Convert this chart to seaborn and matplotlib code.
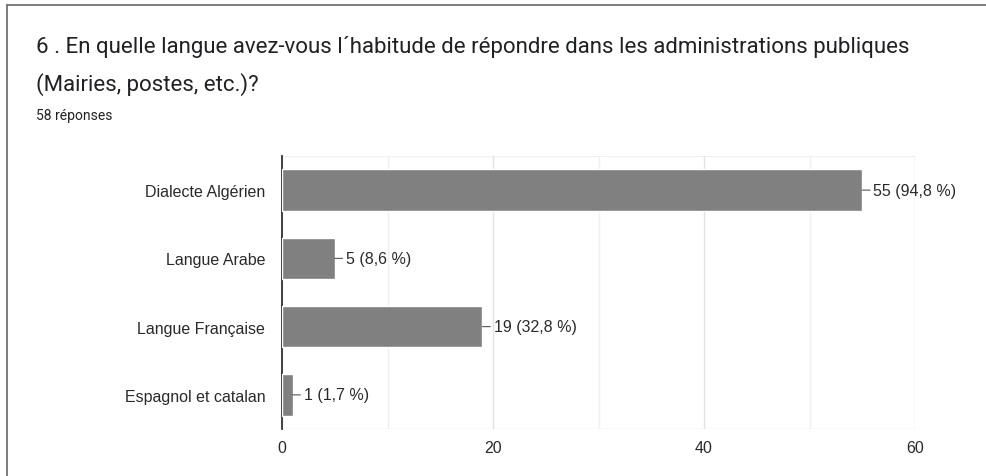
import pandas as pd
import seaborn as sns
import matplotlib.pyplot as plt
from matplotlib.lines import Line2D
from matplotlib.ticker import MultipleLocator

title_l1 = "6 . En quelle langue avez-vous l\u00b4habitude de répondre dans les administrations publiques"
title_l2 = "(Mairies, postes, etc.)?"
subtitle = "58 réponses"
langues = ['Dialecte Algérien', 'Langue Arabe', 'Langue Française', 'Espagnol et catalan']
reponses = [55, 5, 19, 1]
total = 58

df = pd.DataFrame({'langue': langues, 'n': reponses})

sns.set_style('white')
plt.rcParams['font.family'] = ['Liberation Sans', 'DejaVu Sans']

fig = plt.figure(figsize=(9.86, 4.77), dpi=100)
ax = fig.add_axes([282 / 986, 1 - 430 / 477, (915 - 282) / 986, (430 - 157) / 477])

sns.barplot(data=df, x='n', y='langue', orient='h', color='#808080', saturation=1,
            width=0.61, ax=ax, zorder=3)

ax.set_xlim(0, 60)
ax.set_ylim(3.5, -0.5)
ax.xaxis.set_major_locator(MultipleLocator(20))
ax.xaxis.set_minor_locator(MultipleLocator(10))
ax.grid(axis='x', which='major', color='#e2e2e2', lw=1, zorder=0)
ax.grid(axis='x', which='minor', color='#efefef', lw=1, zorder=0)
ax.set_axisbelow(True)
for s in ['top', 'right', 'bottom']:
    ax.spines[s].set_visible(False)
ax.spines['left'].set_color('#333333')
ax.spines['left'].set_linewidth(1.3)
ax.axhline(3.5, color='#e8e8e8', lw=1, zorder=0)
ax.axhline(-0.5, color='#f0f0f0', lw=1, zorder=0)
ax.tick_params(axis='both', which='both', length=0, labelsize=11.5, colors='#2a2a2a')
ax.tick_params(axis='y', pad=12)
ax.tick_params(axis='x', pad=8)
ax.set_xlabel('')
ax.set_ylabel('')

for i, v in enumerate(reponses):
    pct = f"{v / total * 100:.1f}".replace('.', ',')
    ax.annotate(f"{v} ({pct} %)", xy=(v, i), xytext=(8, 0), textcoords='offset points',
                va='center', ha='left', fontsize=11.5, color='#2a2a2a',
                arrowprops=dict(arrowstyle='-', color='#555555', lw=0.8, shrinkA=0, shrinkB=0))

fig.text(36 / 986, 1 - 47 / 477, title_l1, family=['Roboto', 'DejaVu Sans'], fontsize=16,
         color='#202124', va='center', ha='left')
fig.text(36 / 986, 1 - 85 / 477, title_l2, family=['Roboto', 'DejaVu Sans'], fontsize=16,
         color='#202124', va='center', ha='left')
fig.text(36 / 986, 1 - 116 / 477, subtitle, family=['Roboto', 'DejaVu Sans'], fontsize=10,
         color='#202124', va='center', ha='left')

fig.add_artist(Line2D([7 / 986, 1], [1 - 6 / 477, 1 - 6 / 477], color='#666666', lw=1.2))
fig.add_artist(Line2D([7 / 986, 7 / 986], [0, 1 - 6 / 477], color='#666666', lw=1.2))

fig.savefig('out.png', dpi=100, facecolor='white')
